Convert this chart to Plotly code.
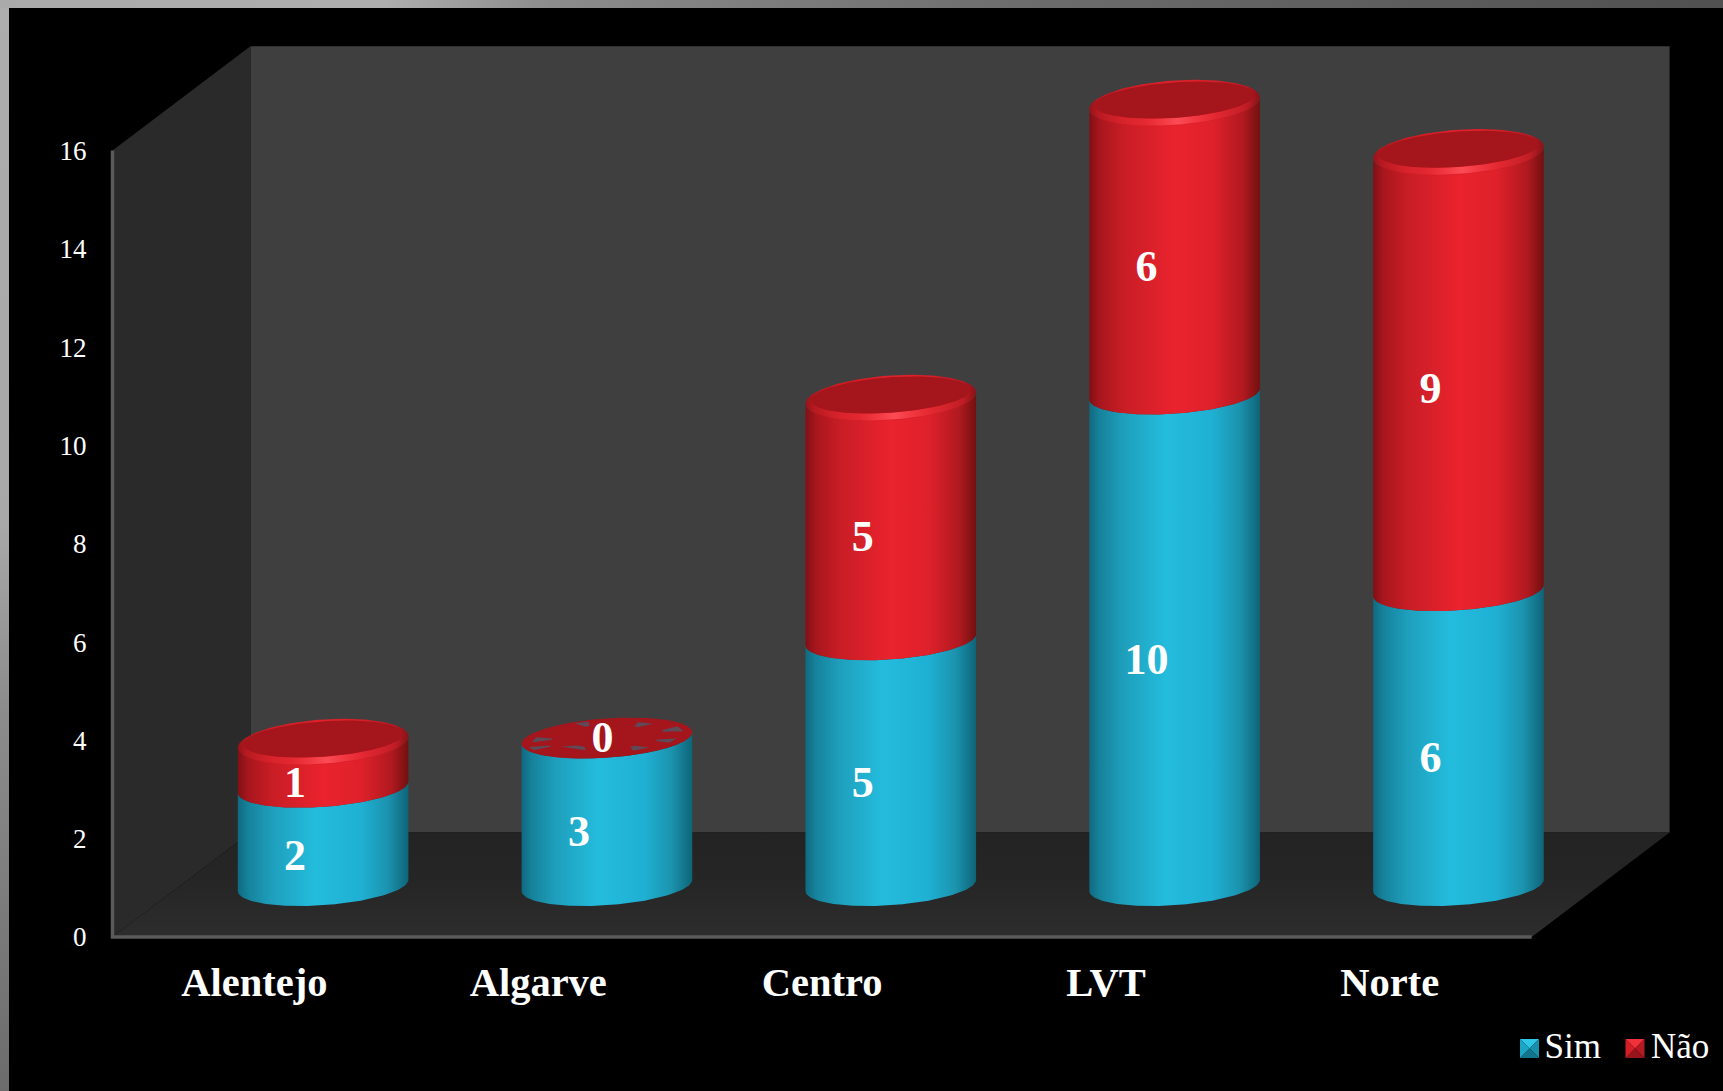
import numpy as np
import plotly.graph_objects as go

# ---- data ----
categories = ["Alentejo", "Algarve", "Centro", "LVT", "Norte"]
sim = [2, 3, 5, 10, 6]
nao = [1, 0, 5, 6, 9]
y_ticks = [0, 2, 4, 6, 8, 10, 12, 14, 16]
series_names = ["Sim", "Não"]

# ---- page geometry ----
W, H = 1723, 1091
SLOT_PX = 283.84      # px per category
UNIT_PX = 49.15       # px per y unit
X0_PX = 254.4         # px of category 0
Y0_PX = 937.0         # px of value 0
xr = [-X0_PX / SLOT_PX, (W - X0_PX) / SLOT_PX]
yr = [(Y0_PX - H) / UNIT_PX, Y0_PX / UNIT_PX]


def dx(px):
    return px / SLOT_PX


def dy(px):
    return px / UNIT_PX


def X(px):
    return (px - X0_PX) / SLOT_PX


def Y(px):
    return (Y0_PX - px) / UNIT_PX


DEPTH_X, DEPTH_Y = dx(137.9), dy(104.4)
CX_OFF, CY_OFF = dx(68.7), dy(51.5)
AX, AY, BY = dx(85.3), dy(5.7), dy(19.7)

SIM_SCALE = [[0, "#0f6a80"], [0.06, "#16829b"], [0.2, "#1e9fbc"], [0.45, "#24bcdd"],
             [0.72, "#1fb0d3"], [0.88, "#1b93ae"], [1, "#0e6478"]]
NAO_SCALE = [[0, "#7f1016"], [0.06, "#a8161d"], [0.2, "#c81d25"], [0.5, "#ea232e"],
             [0.72, "#df212b"], [0.9, "#b11920"], [1, "#73100f"]]
RIM_SCALE = [[0, "#96131a"], [0.05, "#b4181f"], [0.2, "#cf1c24"], [0.5, "#e0212b"],
             [0.72, "#d81f28"], [0.92, "#bb1a22"], [1, "#8a1218"]]
GLOW_SCALE = [[0, "rgba(255,70,80,0)"], [0.3, "rgba(255,60,70,0.3)"], [0.52, "rgba(255,80,90,0.9)"],
              [0.75, "rgba(255,60,70,0.3)"], [1, "rgba(255,70,80,0)"]]
CAP = "#a5151c"

fig = go.Figure()


def poly(xs, ys, color=None, grad=None, gtype="horizontal"):
    kw = dict(fillcolor=color) if color else dict(fillgradient=dict(type=gtype, colorscale=grad))
    fig.add_trace(go.Scatter(x=list(xs), y=list(ys), mode="lines", fill="toself",
                             line=dict(width=0, color="rgba(0,0,0,0)"), hoverinfo="skip",
                             showlegend=False, **kw))


def line(xs, ys, color, width):
    fig.add_trace(go.Scatter(x=xs, y=ys, mode="lines", line=dict(color=color, width=width),
                             hoverinfo="skip", showlegend=False))


def ell(cx, cy, t, s=1.0, h=1.0):
    return cx + s * AX * np.cos(t), cy + s * AY * np.cos(t) + h * BY * np.sin(t)


# ---- outer gray frame ----
poly([X(0), X(9), X(9), X(0)], [Y(0), Y(0), Y(H), Y(H)],
     grad=[[0, "#6c6c6c"], [0.35, "#8c8c8c"], [0.52, "#a8a8a8"], [1, "#adadad"]], gtype="vertical")
poly([X(0), X(W), X(W), X(0)], [Y(0), Y(0), Y(8), Y(8)],
     grad=[[0, "#aaaaaa"], [0.22, "#aeaeae"], [0.32, "#8c8c8c"], [0.6, "#6c6c6c"], [1, "#505050"]])

# ---- 3D box ----
xa, xb = -0.5, 4.5
top = y_ticks[-1]
poly([xa + DEPTH_X, xb + DEPTH_X, xb + DEPTH_X, xa + DEPTH_X],
     [DEPTH_Y, DEPTH_Y, top + DEPTH_Y, top + DEPTH_Y], color="#3f3f3f")
poly([xa, xa + DEPTH_X, xa + DEPTH_X, xa], [0, DEPTH_Y, top + DEPTH_Y, top], color="#2a2a2a")
poly([xa, xb, xb + DEPTH_X, xa + DEPTH_X], [0, 0, DEPTH_Y, DEPTH_Y],
     grad=[[0, "#2d2d2d"], [0.5, "#262626"], [1, "#232323"]], gtype="vertical")
line([xa, xa, xb], [top, 0, 0], "#5a5a5a", 3.5)

# ---- cylinders ----
lower = np.linspace(np.pi, 2 * np.pi, 80)
full = np.linspace(0, 2 * np.pi, 160)
streaks = [(0.25, 0.82, 0.16), (0.95, 0.72, 0.14), (2.95, 0.80, 0.14), (3.45, 0.85, 0.10),
           (3.95, 0.55, 0.34), (5.25, 0.72, 0.14), (5.85, 0.78, 0.12), (1.9, 0.85, 0.09)]

for i in range(len(categories)):
    cx = i + CX_OFF
    base = CY_OFF
    for j, (v, scale) in enumerate(((sim[i], SIM_SCALE), (nao[i], NAO_SCALE))):
        if v > 0:
            xl, yl = ell(cx, base, lower)
            shift = dy(5.0) if j == 1 else 0.0   # the top shoulder is rounded
            xu, yu = ell(cx, base + v - shift, lower[::-1])
            poly(np.r_[xl, xu], np.r_[yl, yu], grad=scale)
        base += v
    # top cap
    if nao[i] > 0:
        xu, yu = ell(cx, base - dy(4.0), full, 1.0, 1.15)
        poly(xu, yu, grad=RIM_SCALE)
        xo, yo = ell(cx, base - dy(6.0), lower, 0.96, 1.0)
        xn, yn = ell(cx, base - dy(1.0), lower[::-1], 0.94, 0.9)
        poly(np.r_[xo, xn], np.r_[yo, yn], grad=GLOW_SCALE)
        xu, yu = ell(cx, base - dy(1.0), full, 0.935, 0.9)
        poly(xu, yu, color=CAP)
    else:
        xu, yu = ell(cx, base, full)
        poly(xu, yu, color=CAP)
        for t0, r, w in streaks:
            ts = np.array([t0 - w, t0 + w, t0 + w * 0.4, t0 - w * 0.4])
            rs = np.array([1.1 * r, 1.1 * r, 0.82 * r, 0.82 * r])
            poly(cx + rs * AX * np.cos(ts),
                 base + rs * (AY * np.cos(ts) + BY * np.sin(ts)), color="#5f4a58")

# ---- data labels ----
lab_x, lab_y, lab_t = [], [], []
for i in range(len(categories)):
    cx, base = i + CX_OFF, CY_OFF
    for v in (sim[i], nao[i]):
        if v > 0:
            lab_x.append(cx - dx(28))
            lab_y.append(base + v / 2 - dy(23))
        else:
            lab_x.append(cx - dx(4.5))
            lab_y.append(base - dy(2.5))
        lab_t.append(str(v))
        base += v
fig.add_trace(go.Scatter(x=lab_x, y=lab_y, text=lab_t, mode="text", textposition="middle center",
                         textfont=dict(family="Liberation Serif", size=44, color="white", weight="bold"),
                         hoverinfo="skip", showlegend=False))

# ---- legend (pyramid swatches) ----
LEG = [
    (series_names[0], 1520.0, 1544.5, ["#2fc6e8", "#1ba6c6", "#1790ab", "#13758c"]),
    (series_names[1], 1625.5, 1651.0, ["#f0303a", "#d31e27", "#b51921", "#96141a"]),
]
S = 19.0
for name, mx, tx, (ctop, cside1, cside2, cbot) in LEG:
    yt, yb = 1039.0, 1058.0
    c = (X(mx + S / 2), Y((yt + yb) / 2))
    corners = [(X(mx), Y(yt)), (X(mx + S), Y(yt)), (X(mx + S), Y(yb)), (X(mx), Y(yb))]
    for k, col in enumerate([ctop, cside2, cbot, cside1]):
        a, b = corners[k], corners[(k + 1) % 4]
        poly([a[0], b[0], c[0]], [a[1], b[1], c[1]], color=col)
    fig.add_trace(go.Scatter(x=[X(tx)], y=[Y(1049.5)], text=[name], mode="text", textposition="middle right",
                             textfont=dict(family="Liberation Serif", size=35, color="white"),
                             hoverinfo="skip", showlegend=False))

fig.update_layout(
    width=W, height=H, margin=dict(l=0, r=0, t=0, b=0),
    paper_bgcolor="black", plot_bgcolor="black", showlegend=False, hovermode=False,
    xaxis=dict(range=xr, domain=[0, 1], anchor="free", position=(H - Y0_PX) / H,
               tickmode="array", tickvals=list(range(len(categories))), ticktext=categories,
               tickfont=dict(family="Liberation Serif", size=40.5, color="white", weight="bold"),
               ticks="outside", ticklen=9, tickcolor="rgba(0,0,0,0)",
               showgrid=False, zeroline=False, showline=False, fixedrange=True),
    yaxis=dict(range=yr, domain=[0, 1], anchor="free", position=111.0 / W,
               tickmode="array", tickvals=y_ticks,
               tickfont=dict(family="Liberation Serif", size=27, color="white"),
               ticks="outside", ticklen=19, tickcolor="rgba(0,0,0,0)",
               showgrid=False, zeroline=False, showline=False, fixedrange=True),
)

fig.write_html("out.html", config={"displayModeBar": False},
               post_script="document.body.style.margin='0';document.body.style.background='black';"
                           "document.documentElement.style.overflow='hidden';")
